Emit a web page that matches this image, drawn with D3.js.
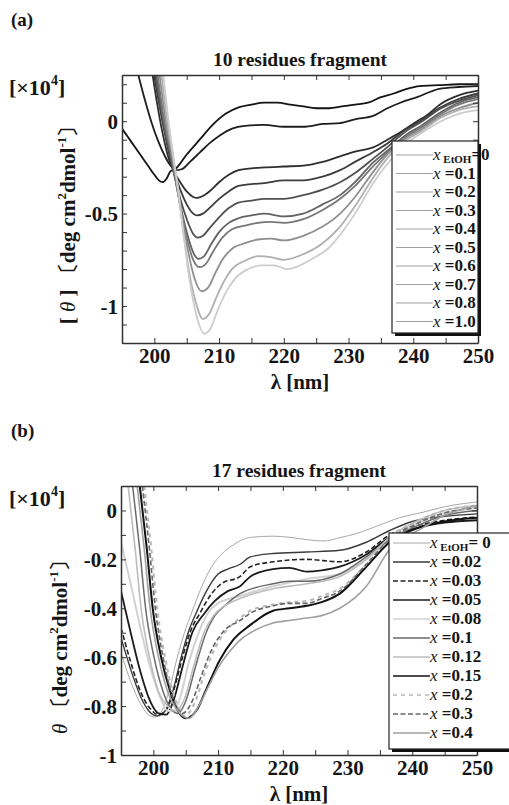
<!DOCTYPE html>
<html>
<head>
<meta charset="utf-8">
<script src="https://cdn.jsdelivr.net/npm/d3@7"></script>
<style>
  body { margin: 0; background: #fff; }
  text { font-family: "Liberation Serif", "Times New Roman", serif; font-weight: bold; fill: #151515; }
</style>
</head>
<body>
<svg id="chart" width="509" height="805"></svg>
<script>

// ---- panel (a): 10 residues fragment, [wavelength nm, theta x1e4] ----
var labelsA = ["0", "0.1", "0.2", "0.3", "0.4", "0.5", "0.6", "0.7", "0.8", "1.0"];

var a00 = [[195,-0.04],[196,-0.09],[197,-0.14],[198,-0.19],[199,-0.24],[200,-0.29],[200.7,-0.32],[201.3,-0.33],[201.9,-0.31],[202.5,-0.27],[203.2,-0.26],[205,-0.18],[207,-0.1],[209,-0.02],[211,0.04],[213,0.075],[215,0.09],[217,0.1],[219,0.1],[221,0.09],[223,0.08],[225,0.07],[227,0.07],[229,0.08],[231,0.09],[233,0.1],[235,0.13],[237,0.15],[239,0.175],[241,0.19],[244,0.195],[247,0.2],[250,0.2]];
var a01 = [[197.3,0.28],[198.5,0.12],[199.5,0.0],[200.5,-0.1],[201.5,-0.18],[202.5,-0.24],[203.3,-0.265],[204.2,-0.26],[205.5,-0.22],[207,-0.17],[208.5,-0.12],[210,-0.08],[212,-0.04],[214,-0.025],[217,-0.02],[220,-0.03],[223,-0.03],[226,-0.015],[228.7,-0.01],[231,0.01],[233.9,0.03],[236,0.07],[238,0.1],[240.6,0.13],[244,0.175],[247,0.185],[250,0.19]];
var a02 = [[199.6,0.28],[200.5,0.08],[201.3,-0.07],[202.2,-0.2],[203,-0.27],[204,-0.33],[205,-0.38],[206,-0.41],[206.6,-0.415],[207.5,-0.405],[208.5,-0.38],[210,-0.33],[211.5,-0.29],[213,-0.265],[215,-0.255],[217,-0.25],[220,-0.245],[223,-0.24],[226,-0.22],[228.7,-0.19],[231,-0.165],[233.9,-0.14],[236,-0.1],[238,-0.06],[240.6,0.0],[242,0.03],[244.3,0.095],[247,0.14],[250,0.165]];
var a03 = [[199.8,0.28],[201.4,-0.03],[202.3,-0.18],[203,-0.27],[204,-0.37],[205,-0.45],[206,-0.5],[206.6,-0.51],[207.5,-0.5],[208.5,-0.47],[210,-0.42],[211.5,-0.38],[213,-0.35],[215,-0.34],[217,-0.335],[220,-0.32],[223,-0.32],[226,-0.3],[228.7,-0.265],[231,-0.22],[233.9,-0.165],[236,-0.12],[239,-0.04],[241,0.0],[244.3,0.077],[247,0.12],[250,0.15]];
var a04 = [[200,0.28],[201.5,-0.03],[202.4,-0.18],[203,-0.28],[204,-0.42],[205,-0.53],[206,-0.61],[206.7,-0.63],[207.5,-0.62],[208.5,-0.58],[210,-0.52],[211.5,-0.47],[213,-0.44],[215,-0.43],[217,-0.42],[220,-0.42],[223,-0.4],[226,-0.37],[228.7,-0.33],[231,-0.28],[233.9,-0.2],[236,-0.14],[239,-0.05],[241,-0.01],[244.3,0.07],[247,0.11],[250,0.14]];
var a05 = [[200.2,0.28],[201.6,-0.03],[202.5,-0.18],[203.1,-0.29],[204,-0.45],[205,-0.6],[206,-0.71],[206.8,-0.745],[207.7,-0.73],[208.7,-0.67],[210,-0.6],[211.5,-0.55],[213,-0.525],[215,-0.51],[217,-0.5],[220,-0.515],[223,-0.5],[226,-0.45],[228.7,-0.4],[231,-0.33],[233.9,-0.22],[236,-0.16],[239,-0.07],[241,-0.03],[244.3,0.05],[247,0.1],[250,0.13]];
var a06 = [[200.4,0.28],[201.7,-0.03],[202.6,-0.18],[203.2,-0.3],[204,-0.46],[205,-0.63],[206,-0.75],[207,-0.79],[208,-0.77],[209,-0.71],[210.5,-0.63],[212,-0.585],[214,-0.565],[216,-0.55],[218,-0.545],[220,-0.55],[223,-0.53],[226,-0.48],[228.7,-0.42],[231,-0.35],[233.9,-0.24],[236,-0.17],[239,-0.08],[241,-0.04],[244.3,0.04],[247,0.09],[250,0.12]];
var a07 = [[200.7,0.28],[201.9,-0.03],[202.7,-0.18],[203.3,-0.3],[204.2,-0.5],[205.2,-0.7],[206.2,-0.85],[207.3,-0.92],[208.3,-0.9],[209.3,-0.83],[210.5,-0.75],[212,-0.69],[214,-0.66],[216,-0.64],[218,-0.635],[220,-0.645],[223,-0.62],[226,-0.57],[228.7,-0.5],[231,-0.41],[233.9,-0.27],[236,-0.18],[239,-0.09],[241,-0.05],[244.3,0.03],[247,0.07],[250,0.1]];
var a08 = [[201,0.28],[202.1,-0.03],[202.8,-0.18],[203.4,-0.31],[204.3,-0.55],[205.3,-0.8],[206.4,-0.98],[207.5,-1.07],[208.5,-1.04],[209.5,-0.96],[210.7,-0.87],[212,-0.8],[214,-0.755],[216,-0.73],[218,-0.735],[220,-0.75],[223,-0.72],[226,-0.66],[228.7,-0.57],[231,-0.46],[233.9,-0.3],[236,-0.2],[239,-0.1],[241,-0.06],[244.3,0.02],[247,0.06],[250,0.08]];
var a10 = [[201.3,0.28],[202.3,-0.03],[202.9,-0.18],[203.5,-0.32],[204.4,-0.58],[205.4,-0.85],[206.5,-1.05],[207.7,-1.15],[208.7,-1.12],[209.7,-1.03],[211,-0.93],[212.5,-0.85],[214.5,-0.8],[216.5,-0.78],[218.5,-0.78],[220.5,-0.8],[224.6,-0.74],[226.8,-0.69],[228.8,-0.61],[231,-0.5],[233.9,-0.33],[236.5,-0.21],[239,-0.12],[241,-0.07],[244.3,0.0],[247,0.04],[250,0.06]];

var seriesA = [a00, a01, a02, a03, a04, a05, a06, a07, a08, a10];

// ---- panel (b): 17 residues fragment ----
var labelsB = ["0", "0.02", "0.03", "0.05", "0.08", "0.1", "0.12", "0.15", "0.2", "0.3", "0.4"];

var b000 = [[195,-0.58],[196.5,-0.7],[198,-0.79],[199.2,-0.835],[200.2,-0.845],[201.3,-0.82],[202.5,-0.73],[203.7,-0.6],[204.8,-0.5],[205.9,-0.42],[207.5,-0.31],[209,-0.23],[210.5,-0.18],[212.4,-0.14],[215,-0.11],[218.5,-0.105],[221.1,-0.11],[224,-0.12],[226.2,-0.125],[229,-0.11],[231.3,-0.095],[235.4,-0.055],[238,-0.03],[241.7,-0.007],[245,0.015],[250,0.035]];
var b002 = [[195,-0.52],[196.5,-0.65],[198,-0.76],[199.3,-0.82],[200.6,-0.84],[201.8,-0.82],[203,-0.74],[204.3,-0.6],[205.5,-0.49],[206.6,-0.42],[208,-0.34],[210,-0.26],[211.5,-0.24],[213.4,-0.22],[215,-0.19],[218.5,-0.176],[223.7,-0.17],[228.8,-0.163],[232.9,-0.13],[236.5,-0.082],[240,-0.045],[244.2,-0.027],[250,-0.014]];
var b003 = [[195,-0.48],[196.5,-0.62],[198,-0.74],[199.5,-0.81],[200.8,-0.835],[202,-0.815],[203.2,-0.73],[204.5,-0.6],[205.8,-0.49],[207.2,-0.42],[209,-0.34],[210.5,-0.3],[213.4,-0.27],[215,-0.23],[218.5,-0.21],[223.7,-0.2],[228.8,-0.21],[232.9,-0.17],[236.5,-0.1],[241,-0.06],[245,-0.04],[250,-0.027]];
var b005 = [[195,-0.33],[196.5,-0.5],[198,-0.66],[199.5,-0.78],[200.8,-0.83],[202,-0.835],[203.2,-0.77],[204.5,-0.64],[206,-0.5],[207.9,-0.42],[209.5,-0.37],[211.5,-0.33],[213.4,-0.31],[215,-0.27],[218.5,-0.24],[221,-0.235],[223.7,-0.25],[226,-0.245],[228.8,-0.23],[232.9,-0.18],[236.5,-0.11],[241,-0.07],[245,-0.05],[250,-0.04]];
var b008 = [[195,-0.13],[196.5,-0.3],[198,-0.48],[199.5,-0.64],[201,-0.76],[202.2,-0.82],[203.2,-0.82],[204.2,-0.76],[205.5,-0.62],[207,-0.5],[208.4,-0.42],[210,-0.38],[213.4,-0.35],[218.5,-0.31],[223.7,-0.28],[228.8,-0.26],[232.9,-0.2],[236.5,-0.12],[241,-0.05],[245,-0.01],[250,0.01]];
var b010 = [[196.8,0.1],[197.9,-0.16],[198.8,-0.4],[200.1,-0.6],[201.5,-0.74],[202.7,-0.81],[203.8,-0.83],[205,-0.78],[206.5,-0.64],[208,-0.51],[209.5,-0.43],[211,-0.39],[213.4,-0.34],[218.5,-0.3],[221,-0.29],[223.7,-0.29],[228.8,-0.26],[232.9,-0.19],[236.5,-0.12],[241,-0.06],[245,-0.02],[250,0.0]];
var b012 = [[196.1,0.1],[197.2,-0.16],[198.1,-0.4],[199.4,-0.6],[200.8,-0.74],[202.2,-0.8],[203.5,-0.82],[204.8,-0.77],[206.3,-0.63],[207.8,-0.5],[209.3,-0.43],[211,-0.39],[213.4,-0.36],[218.5,-0.32],[223.7,-0.3],[228.8,-0.27],[232.9,-0.2],[236.5,-0.11],[241,-0.04],[245,0.0],[250,0.02]];
var b015 = [[197.9,0.1],[199,-0.16],[199.9,-0.4],[201.2,-0.6],[202.6,-0.74],[203.8,-0.82],[205,-0.85],[206.7,-0.816],[208.2,-0.73],[210.3,-0.61],[212.3,-0.53],[214.9,-0.47],[218.5,-0.41],[221,-0.4],[223.7,-0.39],[226,-0.375],[228.8,-0.34],[232.9,-0.23],[236.5,-0.13],[241,-0.07],[245,-0.045],[250,-0.03]];
var b020 = [[198.6,0.1],[199.7,-0.16],[200.6,-0.4],[201.8,-0.6],[203,-0.74],[204,-0.81],[204.8,-0.84],[206.5,-0.78],[208,-0.66],[210,-0.54],[212,-0.47],[213.4,-0.44],[215,-0.41],[218.5,-0.385],[221,-0.375],[223.7,-0.37],[226,-0.35],[228.8,-0.32],[232.9,-0.22],[236.5,-0.11],[241,-0.04],[245,0.0],[250,0.02]];
var b030 = [[198.3,0.1],[199.4,-0.16],[200.3,-0.4],[201.5,-0.6],[202.7,-0.74],[203.7,-0.81],[204.5,-0.83],[206,-0.78],[207.5,-0.67],[209,-0.57],[211,-0.49],[213.4,-0.45],[215,-0.42],[218.5,-0.39],[221,-0.38],[223.7,-0.38],[226,-0.36],[228.8,-0.33],[232.9,-0.22],[236.5,-0.12],[241,-0.05],[245,-0.01],[250,0.01]];
var b040 = [[197.5,0.1],[198.6,-0.16],[199.5,-0.4],[200.8,-0.6],[202.2,-0.74],[203.8,-0.82],[205.5,-0.85],[207,-0.8],[208.5,-0.72],[210.3,-0.63],[212,-0.57],[213.4,-0.53],[215,-0.5],[218.5,-0.46],[221,-0.45],[223.7,-0.44],[226,-0.43],[228.8,-0.4],[232.9,-0.31],[236.5,-0.16],[241.7,-0.07],[245,-0.02],[250,0.02]];

var seriesB = [b000, b002, b003, b005, b008, b010, b012, b015, b020, b030, b040];

// tick values
var xTicks = d3.range(195, 251, 5);
var xTickLabels = [200, 210, 220, 230, 240, 250];
var yTicksA = d3.range(-12, 3).map(function(d){ return d / 10; });
var yTickLabelsA = [0, -0.5, -1];
var yTicksB = d3.range(-10, 2).map(function(d){ return d / 10; });
var yTickLabelsB = [0, -0.2, -0.4, -0.6, -0.8, -1];

// styles
var colorsA = ["#141414", "#1e1e1e", "#2e2e2e", "#3c3c3c", "#505050", "#626262", "#777", "#8e8e8e", "#b0b0b0", "#cdcdcd"];
var colorsB = ["#a8a8a8", "#3a3a3a", "#222", "#1a1a1a", "#d2d2d2", "#6a6a6a", "#bdbdbd", "#111", "#b8b8b8", "#666", "#a0a0a0"];
var widthsB = [1, 1.4, 1.6, 1.8, 2, 1.5, 1.6, 2, 2, 1.6, 1.6];
var dashB = [null, null, "5,2.5", null, null, null, null, null, "4,4", "5,2.5", null];

var svg = d3.select("#chart");

function drawPanel(cfg) {
  var x = d3.scaleLinear().domain([195, 250]).range([cfg.left, cfg.right]);
  var y = d3.scaleLinear().domain(cfg.yDomain).range([cfg.bottom, cfg.top]);
  var g = svg.append("g");

  g.append("clipPath").attr("id", cfg.id + "clip")
    .append("rect")
      .attr("x", cfg.left).attr("y", cfg.top)
      .attr("width", cfg.right - cfg.left).attr("height", cfg.bottom - cfg.top);

  var line = d3.line()
    .x(function(d){ return x(d[0]); })
    .y(function(d){ return y(d[1]); })
    .curve(d3.curveMonotoneX);

  var lines = g.append("g").attr("clip-path", "url(#" + cfg.id + "clip)");
  cfg.series.forEach(function(s, i) {
    lines.append("path")
      .attr("d", line(s))
      .attr("fill", "none")
      .attr("stroke", cfg.colors[i])
      .attr("stroke-width", cfg.widths ? cfg.widths[i] : 1.8)
      .attr("stroke-dasharray", cfg.dash ? cfg.dash[i] : null)
      .attr("stroke-linejoin", "round");
  });

  // axes, ticks pointing inward
  var fx = function(d){ return xTickLabels.indexOf(d) > -1 ? d : ""; };
  var fy = function(d){
    return cfg.yLabels.some(function(v){ return Math.abs(v - d) < 1e-6; }) ? String(+d.toFixed(1)) : "";
  };

  var axB = g.append("g").attr("transform", "translate(0," + cfg.bottom + ")")
    .call(d3.axisBottom(x).tickValues(xTicks).tickFormat(fx).tickSizeInner(-5).tickSizeOuter(0).tickPadding(2));
  var axT = g.append("g").attr("transform", "translate(0," + cfg.top + ")")
    .call(d3.axisTop(x).tickValues(xTicks).tickFormat("").tickSizeInner(-5).tickSizeOuter(0));
  var axL = g.append("g").attr("transform", "translate(" + cfg.left + ",0)")
    .call(d3.axisLeft(y).tickValues(cfg.yTicks).tickFormat(fy).tickSizeInner(-5).tickSizeOuter(0).tickPadding(4));
  var axR = g.append("g").attr("transform", "translate(" + cfg.right + ",0)")
    .call(d3.axisRight(y).tickValues(cfg.yTicks).tickFormat("").tickSizeInner(-5).tickSizeOuter(0));

  [axB, axT, axL, axR].forEach(function(a) {
    a.select(".domain").attr("stroke", "#333").attr("stroke-width", 1.5);
    a.selectAll(".tick line").attr("stroke", "#333").attr("stroke-width", 1);
    a.selectAll("text").attr("fill", "#151515")
      .style("font-family", '"Liberation Serif", serif').style("font-weight", "bold").style("font-size", "21px");
  });
  axB.selectAll("text").attr("dy", "0.85em");
  axL.selectAll("text").attr("dy", "0.35em");

  // legend
  var lg = g.append("g");
  var bw = cfg.legend.w, bh = cfg.legend.h;
  lg.append("rect").attr("x", cfg.legend.x + 3).attr("y", cfg.legend.y + 3)
    .attr("width", bw).attr("height", bh).attr("fill", "#111");
  lg.append("rect").attr("x", cfg.legend.x).attr("y", cfg.legend.y)
    .attr("width", bw).attr("height", bh).attr("fill", "#fff").attr("stroke", "#222").attr("stroke-width", 1.2);

  cfg.labels.forEach(function(lab, i) {
    var yy = cfg.legend.y0 + i * cfg.legend.step;
    lg.append("line")
      .attr("x1", cfg.legend.x + 4).attr("x2", cfg.legend.x + 41)
      .attr("y1", yy).attr("y2", yy)
      .attr("stroke", cfg.legendColors ? cfg.legendColors[i] : cfg.colors[i])
      .attr("stroke-width", cfg.widths ? Math.min(cfg.widths[i], 1.6) : 1)
      .attr("stroke-dasharray", cfg.dash ? cfg.dash[i] : null);
    var t = lg.append("text").attr("x", cfg.legend.x + 41).attr("y", yy + 5).style("font-size", "17px");
    t.append("tspan").style("font-style", "italic").style("font-weight", "normal").text("x");
    if (i === 0) {
      t.append("tspan").attr("dy", 3).style("font-size", "11px").text(" EtOH");
      t.append("tspan").attr("dy", -3).text("=" + cfg.firstGap + lab);
    } else {
      t.append("tspan").text(" =" + lab);
    }
  });

  // titles
  g.append("text").attr("x", 11).attr("y", cfg.top - 49).style("font-size", "19px").text(cfg.tag);
  g.append("text").attr("x", (cfg.left + cfg.right) / 2).attr("y", cfg.top - 9)
    .attr("text-anchor", "middle").style("font-size", "19.5px").text(cfg.title);

  var u = g.append("text").attr("x", 9).attr("y", cfg.unitY).style("font-size", "22px");
  u.append("tspan").text("[\u00d710");
  u.append("tspan").attr("dy", -10).style("font-size", "14px").text("4");
  u.append("tspan").attr("dy", 10).text("]");

  g.append("text").attr("x", (cfg.left + cfg.right) / 2).attr("y", cfg.bottom + 46)
    .attr("text-anchor", "middle").style("font-size", "21px").text("\u03bb [nm]");

  var yl = g.append("text")
    .attr("transform", "translate(" + cfg.ylabel.x + "," + cfg.ylabel.y + ") rotate(-90)")
    .attr("text-anchor", "middle").style("font-size", "21px");
  yl.append("tspan").text(cfg.ylabel.pre);
  yl.append("tspan").style("font-style", "italic").style("font-weight", "normal").text("\u03b8");
  yl.append("tspan").text(cfg.ylabel.post + "\u3014deg cm");
  yl.append("tspan").attr("dy", -9).style("font-size", "13px").text("2");
  yl.append("tspan").attr("dy", 9).text("dmol");
  yl.append("tspan").attr("dy", -9).style("font-size", "13px").text("-1");
  yl.append("tspan").attr("dy", 9).text("\u3015");
}

drawPanel({
  id: "a", tag: "(a)", title: "10 residues fragment",
  left: 122, right: 478, top: 75, bottom: 343,
  yDomain: [-1.2, 0.25], yTicks: yTicksA, yLabels: yTickLabelsA,
  series: seriesA, colors: colorsA, labels: labelsA,
  legendColors: colorsA.map(function(){ return "#a0a0a0"; }),
  legend: { x: 392, y: 141, w: 86, h: 192, y0: 155, step: 18.5 },
  firstGap: "",
  unitY: 95,
  ylabel: { x: 75, y: 220, pre: "[ ", post: " ]  " }
});

drawPanel({
  id: "b", tag: "(b)", title: "17 residues fragment",
  left: 121, right: 477, top: 486, bottom: 755,
  yDomain: [-1, 0.1], yTicks: yTicksB, yLabels: yTickLabelsB,
  series: seriesB, colors: colorsB, widths: widthsB, dash: dashB, labels: labelsB,
  legend: { x: 389, y: 533, w: 130, h: 216, y0: 543, step: 19 },
  firstGap: " ",
  unitY: 506,
  ylabel: { x: 67, y: 642, pre: "", post: "  " }
});

</script>
</body>
</html>
